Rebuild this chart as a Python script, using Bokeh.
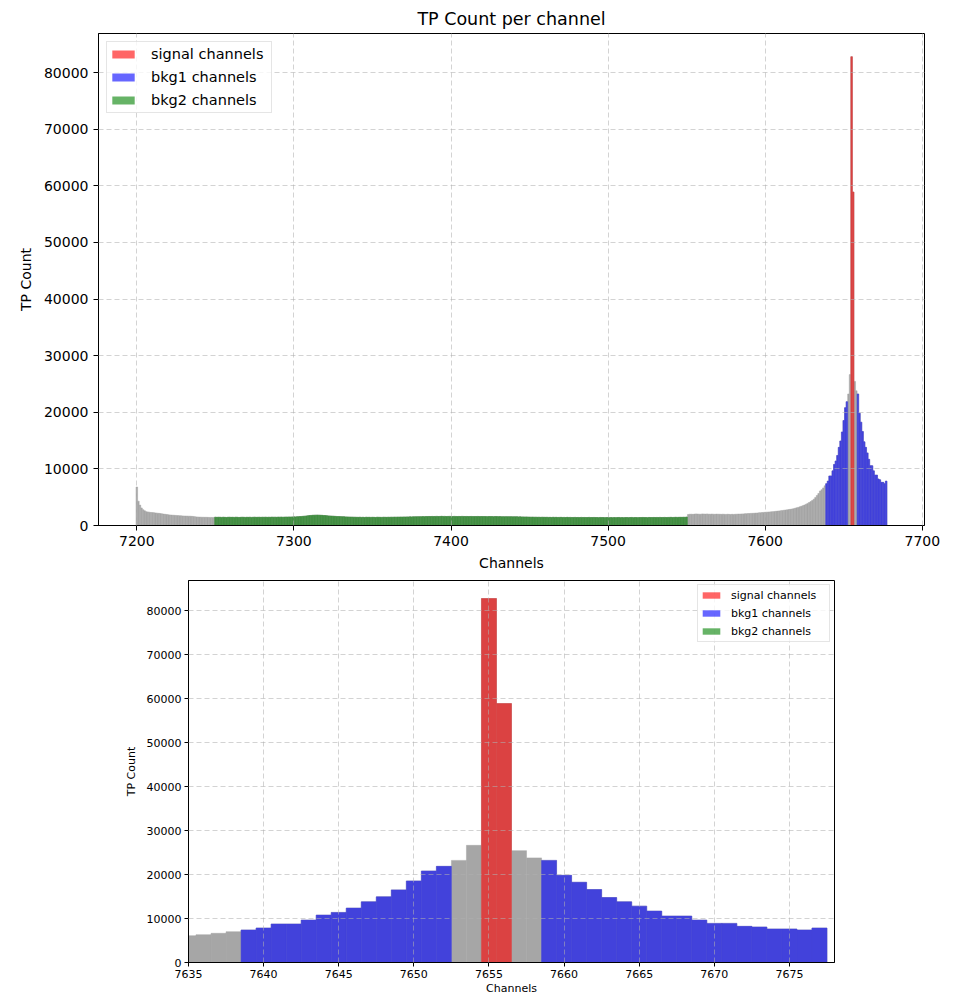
import numpy as np
from bokeh.plotting import figure
from bokeh.models import (ColumnDataSource, SingleIntervalTicker, NumeralTickFormatter,
                          Range1d, Legend, LegendItem)
from bokeh.embed import file_html
from bokeh.resources import INLINE

# ---------------- data (TP count per channel, channels 7200 .. 7677) ----------------
FIRST_CHANNEL = 7200

counts_7200_7249 = [
    6800, 4300, 3600, 3100, 2800, 2600, 2450, 2400, 2350, 2300,
    2280, 2250, 2220, 2180, 2150, 2100, 2060, 2020, 1980, 1950,
    1900, 1870, 1840, 1820, 1800, 1780, 1760, 1740, 1720, 1700,
    1680, 1670, 1660, 1650, 1640, 1620, 1600, 1560, 1520, 1500,
    1480, 1470, 1460, 1450, 1450, 1440, 1430, 1430, 1420, 1420,
]

counts_7250_7550 = [
    1470, 1440, 1460, 1450, 1430, 1460, 1440, 1420, 1450, 1460,
    1440, 1450, 1430, 1460, 1450, 1420, 1440, 1460, 1450, 1430,
    1450, 1440, 1460, 1430, 1450, 1470, 1440, 1450, 1460, 1440,
    1460, 1450, 1470, 1440, 1460, 1450, 1480, 1460, 1470, 1450,
    1480, 1470, 1490, 1460, 1480, 1500, 1490, 1510, 1500, 1520,
    1530, 1520, 1550, 1560, 1580, 1600, 1630, 1650, 1690, 1720,
    1750, 1780, 1800, 1820, 1830, 1840, 1820, 1810, 1790, 1770,
    1750, 1720, 1700, 1680, 1660, 1640, 1620, 1600, 1580, 1570,
    1560, 1550, 1540, 1520, 1510, 1500, 1490, 1480, 1470, 1460,
    1450, 1440, 1460, 1430, 1450, 1420, 1460, 1440, 1450, 1430,
    1450, 1440, 1420, 1460, 1450, 1440, 1430, 1460, 1450, 1440,
    1460, 1450, 1470, 1460, 1480, 1470, 1490, 1480, 1500, 1490,
    1510, 1500, 1520, 1510, 1530, 1520, 1540, 1530, 1550, 1540,
    1560, 1550, 1570, 1560, 1580, 1570, 1590, 1580, 1600, 1590,
    1600, 1610, 1590, 1600, 1620, 1600, 1610, 1590, 1600, 1610,
    1600, 1590, 1610, 1600, 1580, 1600, 1590, 1610, 1600, 1590,
    1600, 1580, 1590, 1600, 1570, 1590, 1580, 1600, 1570, 1580,
    1590, 1570, 1580, 1560, 1590, 1570, 1580, 1560, 1570, 1580,
    1560, 1570, 1550, 1560, 1540, 1560, 1550, 1540, 1560, 1530,
    1540, 1530, 1550, 1520, 1530, 1510, 1520, 1500, 1510, 1490,
    1480, 1470, 1480, 1460, 1470, 1450, 1460, 1440, 1460, 1450,
    1440, 1450, 1430, 1440, 1420, 1450, 1430, 1440, 1420, 1430,
    1440, 1420, 1430, 1410, 1440, 1420, 1430, 1410, 1420, 1430,
    1410, 1420, 1400, 1430, 1410, 1420, 1400, 1410, 1430, 1400,
    1410, 1420, 1400, 1410, 1390, 1420, 1400, 1410, 1390, 1400,
    1410, 1390, 1400, 1380, 1410, 1390, 1400, 1420, 1390, 1400,
    1380, 1400, 1410, 1390, 1400, 1420, 1390, 1410, 1400, 1390,
    1410, 1400, 1420, 1400, 1410, 1390, 1420, 1410, 1400, 1420,
    1410, 1420, 1400, 1430, 1410, 1420, 1430, 1410, 1420, 1430,
    1440, 1420, 1430, 1450, 1430, 1440, 1450, 1440, 1460, 1450,
    1500,
]

counts_7551_7634 = [
    1950, 1980, 2000, 1970, 2010, 2050, 2020, 2000, 1990,
    2050, 2030, 2010, 2040, 2000, 1990, 2020, 2000, 1980, 2010,
    2000, 1990, 1970, 2000, 1980, 1960, 1990, 1970, 1950, 1980,
    1960, 1990, 2000, 2020, 2010, 2040, 2050, 2070, 2090, 2100,
    2120, 2140, 2150, 2170, 2190, 2210, 2230, 2260, 2280, 2310,
    2340, 2360, 2380, 2400, 2420, 2450, 2480, 2510, 2540, 2580,
    2620, 2660, 2700, 2730, 2770, 2810, 2860, 2910, 2970, 3040,
    3120, 3200, 3290, 3390, 3500, 3620, 3750, 3900, 4060, 4230,
    4420, 4650, 4950, 5300, 5650,
]

counts_7635_7677 = [
    6100, 6330, 6640, 7010,
    7390, 7840, 8750, 8750, 9650, 10780, 11390, 12370, 13800, 14930,
    16520, 18550, 20810, 21870,
    23230, 26650,
    82800, 58900,
    25450, 23800,
    23230, 19830, 18250, 16590, 14780, 13800, 12820, 11690, 10560, 10560,
    9650, 8900, 8900, 8220, 8070, 7620, 7620, 7390, 7840,
]

counts = counts_7200_7249 + counts_7250_7550 + counts_7551_7634 + counts_7635_7677
channels = list(range(FIRST_CHANNEL, FIRST_CHANNEL + len(counts)))

signal_channels = [7655, 7656]
bkg1_channels = list(range(7639, 7653)) + list(range(7659, 7678))
bkg2_channels = list(range(7250, 7551))

series_labels = ["signal channels", "bkg1 channels", "bkg2 channels"]

# ---------------- styling ----------------
FONT = "DejaVu Sans"
GRAY_BAR = "#a6a6a6"
BAR_COLORS = ["#db4242", "#4242db", "#428f42"]      # alpha-0.6 colours seen over the grey bars
LEGEND_COLORS = ["#ff0000", "#0000ff", "#008000"]    # legend swatches: alpha 0.6 on white


def bar_source(chs):
    return ColumnDataSource(dict(
        left=[c - 0.5 for c in chs],
        right=[c + 0.5 for c in chs],
        top=[counts[c - FIRST_CHANNEL] for c in chs],
    ))


def make_fig(x_start, x_end, x_interval, fs, frame_w, frame_h, borders,
             legend_loc, legend_fs, glyph_w, glyph_h, label_h, label_w, leg_spacing,
             leg_standoff, leg_margin, leg_padding, tick_out, lab_standoff,
             xlab_standoff, ylab_standoff, title=None):
    p = figure(x_range=Range1d(x_start, x_end), y_range=Range1d(0, 86900),
               frame_width=frame_w, frame_height=frame_h,
               min_border_left=borders[0], min_border_right=borders[1],
               min_border_top=borders[2], min_border_bottom=borders[3],
               output_backend="svg", toolbar_location=None, title=title)

    p.quad(source=bar_source(channels), left="left", right="right", bottom=0, top="top",
           fill_color=GRAY_BAR, line_color=GRAY_BAR, line_width=0.5)
    groups = [signal_channels, bkg1_channels, bkg2_channels]
    items = []
    for chs, col, lcol, lab in zip(groups, BAR_COLORS, LEGEND_COLORS, series_labels):
        src = bar_source(chs)
        p.quad(source=src, left="left", right="right", bottom=0, top="top",
               fill_color=col, line_color=col, line_width=0.5)
        swatch = p.quad(source=src, left="left", right="right", bottom=0, top="top",
                        fill_color=lcol, fill_alpha=0.6, line_alpha=0)
        swatch.visible = False
        items.append(LegendItem(label=lab, renderers=[swatch]))

    legend = Legend(items=items, location=legend_loc,
                    label_text_font=FONT, label_text_font_size=legend_fs,
                    label_text_color="black",
                    glyph_width=glyph_w, glyph_height=glyph_h,
                    label_height=label_h, label_width=label_w,
                    spacing=leg_spacing, padding=leg_padding, margin=leg_margin,
                    label_standoff=leg_standoff,
                    inactive_fill_alpha=0.0,
                    border_line_color="#cccccc", border_line_width=1,
                    background_fill_color="white", background_fill_alpha=0.8,
                    click_policy="none")
    p.add_layout(legend)

    p.xaxis.ticker = SingleIntervalTicker(interval=x_interval)
    p.yaxis.ticker = SingleIntervalTicker(interval=10000)
    p.yaxis.formatter = NumeralTickFormatter(format="0")
    for ax in (p.xaxis[0], p.yaxis[0]):
        ax.axis_line_color = "black"
        ax.major_tick_line_color = "black"
        ax.major_tick_out = tick_out
        ax.major_tick_in = 0
        ax.minor_tick_line_color = None
        ax.major_label_text_font = FONT
        ax.major_label_text_font_size = fs
        ax.major_label_text_color = "black"
        ax.axis_label_text_font = FONT
        ax.axis_label_text_font_size = fs
        ax.axis_label_text_font_style = "normal"
        ax.axis_label_text_color = "black"
        ax.major_label_standoff = lab_standoff
    p.xaxis.axis_label = "Channels"
    p.yaxis.axis_label = "TP Count"
    p.xaxis.axis_label_standoff = xlab_standoff
    p.yaxis.axis_label_standoff = ylab_standoff

    for g in (p.xgrid[0], p.ygrid[0]):
        g.grid_line_color = "#b0b0b0"
        g.grid_line_alpha = 0.7
        g.grid_line_dash = "5 3"
        g.grid_line_width = 0.8
        g.level = "guide"

    p.outline_line_color = "black"
    p.outline_line_alpha = 1
    p.outline_line_width = 1
    p.background_fill_color = "white"
    p.border_fill_color = "white"
    return p


p1 = make_fig(7175.6, 7701.4, 100, "14px", 826, 492, (98, 20, 33, 48),
              "top_left", "14.5px", 28, 10, 20, 118, 3, 14, 8, 2, 5, 5, 6, 7,
              title="TP Count per channel")
p1.title.text_font = FONT
p1.title.text_font_size = "17.5px"
p1.title.text_font_style = "normal"
p1.title.align = "center"
p1.title.text_color = "black"
p1.title.standoff = 9

p2 = make_fig(7635, 7678, 5, "11px", 646, 382, (188, 20, 7, 31),
              "top_right", "11px", 22, 8, 16, 96, 2, 9, 4, 2, 4, 3, 1, 6)

open("out.html", "w").write(file_html([p1, p2], INLINE))
